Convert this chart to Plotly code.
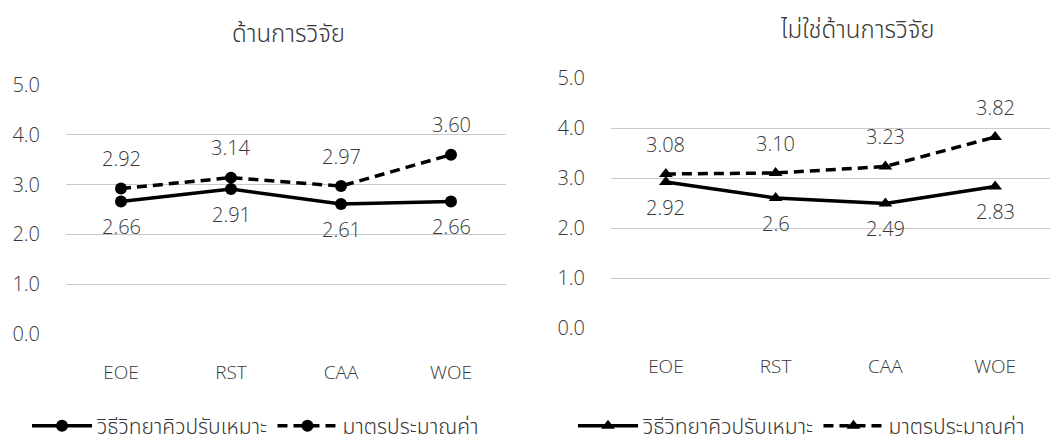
import plotly.graph_objects as go

categories = ["EOE", "RST", "CAA", "WOE"]
series_names = ["วิธีวิทยาคิวปรับเหมาะ", "มาตรประมาณค่า"]

left_title = "ด้านการวิจัย"
left_adaptive = [2.66, 2.91, 2.61, 2.66]
left_estimate = [2.92, 3.14, 2.97, 3.60]
left_adaptive_labels = ["2.66", "2.91", "2.61", "2.66"]
left_estimate_labels = ["2.92", "3.14", "2.97", "3.60"]

right_title = "ไม่ใช่ด้านการวิจัย"
right_adaptive = [2.92, 2.6, 2.49, 2.83]
right_estimate = [3.08, 3.10, 3.23, 3.82]
right_adaptive_labels = ["2.92", "2.6", "2.49", "2.83"]
right_estimate_labels = ["3.08", "3.10", "3.23", "3.82"]

y_ticks = [0, 1, 2, 3, 4, 5]
y_tick_labels = ["0.0", "1.0", "2.0", "3.0", "4.0", "5.0"]

W, H = 1050, 441
FONT = "Open Sans, Noto Sans Thai, Leelawadee UI, Tahoma, Noto Sans, sans-serif"
TXT = "#383838"
DASH = "10px,6px"
WEIGHT = 300

fig = go.Figure()

def px_x(a, b):
    return [a / W, min(b / W, 1.0)]

def px_y(top, bottom):
    return [1 - bottom / H, 1 - top / H]

panels = [
    dict(xa="x", ya="y", xk="xaxis", yk="yaxis", legend="legend", symbol="circle",
         adaptive=left_adaptive, estimate=left_estimate,
         al=left_adaptive_labels, el=left_estimate_labels,
         xdom=px_x(66, 506), ydom=px_y(85, 334), title=left_title, tx=288, ty=32,
         lx=27, ly=426),
    dict(xa="x2", ya="y2", xk="xaxis2", yk="yaxis2", legend="legend2", symbol="triangle-up",
         adaptive=right_adaptive, estimate=right_estimate,
         al=right_adaptive_labels, el=right_estimate_labels,
         xdom=px_x(611, 1050), ydom=px_y(78, 328), title=right_title, tx=857, ty=28,
         lx=573, ly=426),
]

def f(size):
    return dict(size=size, color=TXT, family=FONT, weight=WEIGHT)

annotations = []
for p in panels:
    fig.add_trace(go.Scatter(
        x=categories, y=p["adaptive"], name=series_names[0], mode="lines+markers",
        line=dict(color="black", width=3.5),
        marker=dict(symbol=p["symbol"], size=12, color="black"),
        xaxis=p["xa"], yaxis=p["ya"], legend=p["legend"], cliponaxis=False))
    fig.add_trace(go.Scatter(
        x=categories, y=p["estimate"], name=series_names[1], mode="lines+markers",
        line=dict(color="black", width=3.5, dash=DASH),
        marker=dict(symbol=p["symbol"], size=12, color="black"),
        xaxis=p["xa"], yaxis=p["ya"], legend=p["legend"], cliponaxis=False))
    for c, v, t in zip(categories, p["adaptive"], p["al"]):
        annotations.append(dict(x=c, y=v, text=t, xref=p["xa"], yref=p["ya"],
                                showarrow=False, yshift=-25, font=f(20)))
    for c, v, t in zip(categories, p["estimate"], p["el"]):
        annotations.append(dict(x=c, y=v, text=t, xref=p["xa"], yref=p["ya"],
                                showarrow=False, yshift=30, font=f(20)))
    annotations.append(dict(x=p["tx"] / W, y=1 - p["ty"] / H, xref="paper", yref="paper",
                            text=p["title"], showarrow=False, xanchor="center", yanchor="middle",
                            font=f(24)))

layout = dict(
    width=W, height=H,
    margin=dict(l=0, r=0, t=0, b=0, autoexpand=False),
    paper_bgcolor="white", plot_bgcolor="white",
    font=f(20),
    annotations=annotations,
    showlegend=True,
)
for p in panels:
    layout[p["xk"]] = dict(
        domain=p["xdom"], type="category", range=[-0.5, 3.5],
        showgrid=False, zeroline=False, showline=False,
        ticks="", ticklabelstandoff=25, tickfont=f(19),
        anchor=p["ya"], automargin=False)
    layout[p["yk"]] = dict(
        domain=p["ydom"], range=[0, 5], tickvals=y_ticks, ticktext=y_tick_labels,
        showgrid=True, gridcolor="#c9c9c9", gridwidth=1, zeroline=False,
        showline=False, ticks="", ticklabelstandoff=25,
        tickfont=f(20), anchor=p["xa"], automargin=False)
    layout[p["legend"]] = dict(
        orientation="h", x=p["lx"] / W, y=1 - p["ly"] / H, xanchor="left", yanchor="middle",
        font=f(21), bgcolor="rgba(0,0,0,0)",
        itemwidth=60, tracegroupgap=0)

fig.update_layout(**layout)
fig.write_html("out.html", config={"displayModeBar": False},
               post_script="document.body.style.margin='0';")
